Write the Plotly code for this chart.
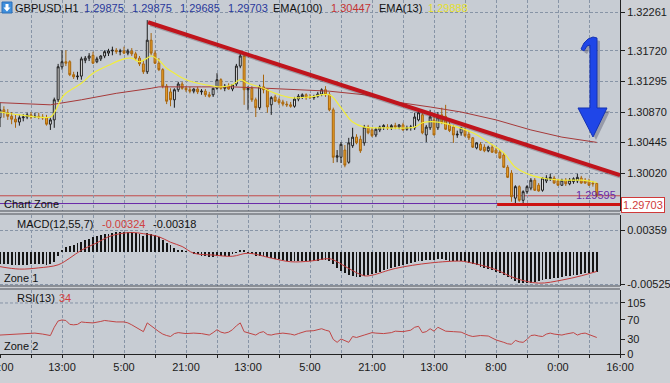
import plotly.graph_objects as go

# ---------------- data ----------------
bar = list(range(155))
open_ = [1.3079,1.3090,1.3086,1.3081,1.3077,1.3073,1.3079,1.3080,1.3083,1.3080,
         1.3081,1.3080,1.3079,1.3070,1.3076,1.3104,1.3150,1.3157,1.3157,1.3139,
         1.3136,1.3137,1.3159,1.3162,1.3166,1.3157,1.3161,1.3165,1.3169,1.3172,
         1.3173,1.3171,1.3172,1.3169,1.3172,1.3168,1.3162,1.3154,1.3143,1.3187,
         1.3169,1.3155,1.3146,1.3123,1.3115,1.3104,1.3118,1.3126,1.3120,1.3118,
         1.3116,1.3119,1.3115,1.3116,1.3111,1.3111,1.3120,1.3132,1.3120,1.3123,
         1.3119,1.3126,1.3151,1.3165,1.3118,1.3120,1.3104,1.3093,1.3122,1.3118,
         1.3097,1.3108,1.3104,1.3101,1.3098,1.3097,1.3095,1.3105,1.3108,1.3111,
         1.3108,1.3107,1.3109,1.3112,1.3118,1.3111,1.3090,1.3024,1.3024,1.3034,
         1.3017,1.3040,1.3052,1.3049,1.3044,1.3066,1.3062,1.3055,1.3062,1.3066,
         1.3066,1.3065,1.3068,1.3066,1.3069,1.3063,1.3065,1.3065,1.3076,1.3083,
         1.3055,1.3065,1.3076,1.3065,1.3083,1.3081,1.3069,1.3066,1.3055,1.3058,
         1.3062,1.3056,1.3051,1.3037,1.3042,1.3038,1.3033,1.3038,1.3034,1.3031,
         1.3027,1.3010,1.3002,1.2967,1.2983,1.2964,1.2976,1.2981,1.2992,1.2985,
         1.2978,1.2991,1.2994,1.2995,1.2991,1.2985,1.2992,1.2987,1.2990,1.2991,
         1.2995,1.2992,1.2991,1.2988,1.29875]
high = [1.3100,1.3095,1.3091,1.3087,1.3084,1.3083,1.3084,1.3086,1.3087,1.3086,
        1.3086,1.3084,1.3083,1.3079,1.3107,1.3154,1.3173,1.3173,1.3159,1.3143,
        1.3143,1.3164,1.3165,1.3169,1.3171,1.3164,1.3166,1.3173,1.3175,1.3178,
        1.3176,1.3175,1.3178,1.3175,1.3176,1.3171,1.3165,1.3159,1.3215,1.3197,
        1.3173,1.3162,1.3148,1.3126,1.3120,1.3120,1.3129,1.3129,1.3123,1.3122,
        1.3120,1.3122,1.3119,1.3119,1.3115,1.3120,1.3141,1.3134,1.3126,1.3127,
        1.3126,1.3154,1.3169,1.3168,1.3123,1.3123,1.3107,1.3125,1.3139,1.3120,
        1.3109,1.3111,1.3107,1.3104,1.3102,1.3101,1.3108,1.3112,1.3113,1.3113,
        1.3112,1.3111,1.3115,1.3120,1.3123,1.3115,1.3093,1.3034,1.3045,1.3041,
        1.3051,1.3065,1.3056,1.3054,1.3069,1.3069,1.3065,1.3065,1.3068,1.3070,
        1.3070,1.3070,1.3072,1.3070,1.3072,1.3068,1.3069,1.3086,1.3090,1.3087,
        1.3069,1.3090,1.3083,1.3087,1.3093,1.3097,1.3076,1.3069,1.3061,1.3066,
        1.3065,1.3061,1.3052,1.3045,1.3045,1.3042,1.3040,1.3041,1.3037,1.3034,
        1.3030,1.3013,1.3006,1.2985,1.2985,1.2978,1.2985,1.2995,1.2995,1.2988,
        1.2996,1.2999,1.3001,1.2998,1.2994,1.2994,1.2995,1.2995,1.2996,1.3001,
        1.2998,1.2995,1.2994,1.2991,1.29875]
low = [1.3066,1.3079,1.3076,1.3070,1.3065,1.3068,1.3074,1.3077,1.3077,1.3079,
       1.3077,1.3076,1.3068,1.3062,1.3065,1.3101,1.3146,1.3151,1.3137,1.3133,
       1.3132,1.3132,1.3155,1.3158,1.3154,1.3155,1.3158,1.3162,1.3165,1.3166,
       1.3168,1.3166,1.3168,1.3166,1.3165,1.3159,1.3151,1.3140,1.3140,1.3166,
       1.3154,1.3144,1.3120,1.3098,1.3095,1.3093,1.3115,1.3118,1.3115,1.3113,
       1.3113,1.3112,1.3111,1.3108,1.3107,1.3108,1.3118,1.3118,1.3116,1.3118,
       1.3116,1.3123,1.3148,1.3097,1.3090,1.3101,1.3080,1.3090,1.3113,1.3086,
       1.3083,1.3101,1.3097,1.3095,1.3094,1.3093,1.3093,1.3102,1.3105,1.3104,
       1.3105,1.3104,1.3107,1.3109,1.3108,1.3088,1.3016,1.3017,1.3016,1.3010,
       1.3015,1.3037,1.3042,1.3030,1.3040,1.3056,1.3052,1.3052,1.3059,1.3062,
       1.3062,1.3062,1.3063,1.3063,1.3061,1.3061,1.3061,1.3062,1.3074,1.3056,
       1.3045,1.3062,1.3055,1.3062,1.3070,1.3062,1.3059,1.3044,1.3051,1.3054,
       1.3052,1.3048,1.3037,1.3035,1.3033,1.3031,1.3031,1.3030,1.3029,1.3022,
       1.3009,1.2995,1.2962,1.2960,1.2962,1.2960,1.2973,1.2978,1.2977,1.2976,
       1.2976,1.2988,1.2991,1.2987,1.2984,1.2984,1.2984,1.2985,1.2987,1.2988,
       1.2987,1.2987,1.2984,1.2983,1.29685]
close = [1.3090,1.3086,1.3081,1.3077,1.3073,1.3079,1.3080,1.3083,1.3080,1.3081,
         1.3080,1.3079,1.3070,1.3076,1.3104,1.3150,1.3157,1.3155,1.3139,1.3136,
         1.3137,1.3161,1.3162,1.3165,1.3155,1.3161,1.3165,1.3171,1.3172,1.3173,
         1.3171,1.3172,1.3169,1.3172,1.3168,1.3162,1.3154,1.3143,1.3187,1.3169,
         1.3155,1.3146,1.3123,1.3102,1.3104,1.3118,1.3126,1.3120,1.3118,1.3116,
         1.3119,1.3115,1.3116,1.3111,1.3109,1.3120,1.3132,1.3120,1.3123,1.3119,
         1.3125,1.3151,1.3165,1.3118,1.3120,1.3104,1.3093,1.3122,1.3118,1.3094,
         1.3107,1.3102,1.3100,1.3098,1.3097,1.3095,1.3105,1.3109,1.3111,1.3107,
         1.3107,1.3108,1.3112,1.3118,1.3111,1.3090,1.3024,1.3026,1.3042,1.3013,
         1.3044,1.3052,1.3044,1.3033,1.3066,1.3058,1.3054,1.3063,1.3066,1.3068,
         1.3065,1.3068,1.3066,1.3069,1.3062,1.3065,1.3066,1.3080,1.3086,1.3058,
         1.3066,1.3080,1.3055,1.3080,1.3072,1.3063,1.3061,1.3055,1.3056,1.3065,
         1.3054,1.3051,1.3038,1.3044,1.3034,1.3033,1.3038,1.3031,1.3030,1.3023,
         1.3010,1.2996,1.2969,1.2983,1.2964,1.2976,1.2983,1.2992,1.2978,1.2977,
         1.2995,1.2995,1.2996,1.2988,1.2985,1.2992,1.2987,1.2992,1.2994,1.2996,
         1.2988,1.2988,1.2985,1.2987,1.29703]

ema13_x = [0, 5, 13, 14, 16, 17, 21, 24, 28, 32, 34, 36, 38, 39, 41, 43, 45, 48, 53, 57,
           60, 62, 64, 68, 71, 75, 80, 85, 88, 91, 94, 98, 107, 109, 113, 118, 122, 126,
           130, 133, 137, 141, 145, 150, 154]
ema13_y = [1.3087, 1.3083, 1.3080, 1.3086, 1.3107, 1.3113, 1.3127, 1.3141, 1.3152, 1.3161,
           1.3162, 1.3157, 1.3162, 1.3165, 1.3159, 1.3148, 1.3141, 1.3132, 1.3125, 1.3122,
           1.3125, 1.3132, 1.3127, 1.3120, 1.3113, 1.3107, 1.3108, 1.3111, 1.3093, 1.3073,
           1.3066, 1.3065, 1.3066, 1.3072, 1.3073, 1.3066, 1.3058, 1.3045, 1.3030, 1.3010,
           1.2999, 1.2994, 1.2992, 1.2992, 1.29888]
ema100_x = [0, 13, 21, 30, 39, 41, 52, 60, 69, 77, 85, 94, 102, 111, 119, 128, 137, 145, 154]
ema100_y = [1.3100, 1.3097, 1.3104, 1.3113, 1.3120, 1.3122, 1.3122, 1.3122, 1.3120, 1.3118,
            1.3116, 1.3111, 1.3101, 1.3094, 1.3087, 1.3076, 1.3062, 1.3052, 1.30447]

macd_hist = [-0.0019,-0.0020,-0.0020,-0.0021,-0.0021,-0.0022,-0.0021,-0.0021,-0.0020,-0.0020,
             -0.0020,-0.0020,-0.0021,-0.0020,-0.0016,-0.0006,0.0003,0.0008,0.0010,0.0012,
             0.0014,0.0017,0.0019,0.0021,0.0024,0.0026,0.0028,0.0029,0.0030,0.0031,
             0.0032,0.0033,0.0033,0.0033,0.0032,0.0031,0.0029,0.0027,0.0031,0.0030,
             0.0028,0.0025,0.0020,0.0015,0.0011,0.0007,0.0004,0.0002,0.0001,0.0000,
             -0.0002,-0.0004,-0.0006,-0.0007,-0.0008,-0.0008,-0.0007,-0.0007,-0.0007,-0.0006,
             -0.0004,-0.0001,0.0003,0.0002,-0.0001,-0.0004,-0.0006,-0.0007,-0.0007,-0.0009,
             -0.0010,-0.0011,-0.0012,-0.0013,-0.0014,-0.0015,-0.0015,-0.0015,-0.0015,-0.0015,
             -0.0015,-0.0015,-0.0014,-0.0013,-0.0013,-0.0014,-0.0020,-0.0026,-0.0031,-0.0035,
             -0.0038,-0.0040,-0.0041,-0.0041,-0.0040,-0.0038,-0.0036,-0.0034,-0.0032,-0.0030,
             -0.0028,-0.0026,-0.0024,-0.0023,-0.0021,-0.0020,-0.0018,-0.0016,-0.0015,-0.0014,
             -0.0013,-0.0013,-0.0013,-0.0012,-0.0012,-0.0013,-0.0014,-0.0014,-0.0015,-0.0015,
             -0.0016,-0.0018,-0.0020,-0.0022,-0.0024,-0.0026,-0.0028,-0.0030,-0.0032,-0.0035,
             -0.0038,-0.0041,-0.0045,-0.0048,-0.0050,-0.0051,-0.0051,-0.0050,-0.0049,-0.0048,
             -0.0046,-0.0045,-0.0044,-0.0043,-0.0042,-0.0041,-0.0040,-0.0039,-0.0038,-0.0037,
             -0.0036,-0.0035,-0.0034,-0.0033,-0.00324]
macd_sig_x = [0, 5, 10, 15, 18, 21, 25, 28, 31, 34, 37, 41, 44, 47, 50, 55, 60, 64, 70, 75,
              80, 85, 87, 90, 94, 96, 102, 111, 119, 121, 125, 128, 133, 139, 145, 150, 154]
macd_sig_y = [-0.0024, -0.0028, -0.0026, -0.0021, -0.0010, 0.0003, 0.0015, 0.0025, 0.0030, 0.0032,
              0.0030, 0.0025, 0.0016, 0.0009, -0.0002, -0.0005, -0.0007, -0.0002, -0.0010, -0.0016,
              -0.0015, -0.0011, -0.0016, -0.0027, -0.0039, -0.0038, -0.0027, -0.0018, -0.0015, -0.0017,
              -0.0023, -0.0029, -0.0043, -0.0051, -0.0046, -0.0039, -0.00318]

rsi_x = [0, 3, 6, 9, 11, 13, 14, 15, 16, 17, 18, 19, 20, 21, 22, 24, 26, 27, 28, 30,
         32, 33, 34, 35, 36, 37, 38, 39, 40, 41, 42, 43, 44, 45, 46, 48, 50, 52, 54, 55,
         56, 57, 58, 59, 60, 61, 62, 63, 64, 65, 66, 67, 68, 69, 70, 71, 73, 75, 76, 77,
         79, 81, 82, 83, 84, 85, 86, 87, 88, 89, 90, 91, 92, 94, 96, 97, 99, 101, 102, 104,
         106, 107, 108, 109, 110, 111, 112, 113, 114, 115, 117, 119, 121, 122, 124, 126, 128, 129, 130, 131,
         132, 133, 134, 135, 136, 137, 138, 139, 140, 141, 142, 143, 145, 146, 148, 149, 150, 151, 152, 153,
         154]
rsi_y = [39, 40, 42, 43, 41, 38, 55, 68, 70, 69, 61, 60, 61, 66, 65, 64, 67, 69, 68, 66,
         66, 64, 60, 55, 50, 46, 64, 57, 52, 46, 41, 38, 36, 42, 44, 42, 43, 42, 39, 44,
         50, 45, 43, 45, 50, 58, 64, 46, 44, 42, 39, 44, 46, 40, 39, 41, 43, 41, 39, 42,
         47, 48, 50, 52, 49, 47, 30, 24, 31, 27, 24, 36, 34, 39, 44, 43, 42, 44, 47, 46,
         49, 55, 57, 44, 46, 52, 47, 55, 51, 47, 46, 45, 38, 36, 38, 37, 29, 27, 24, 21,
         20, 28, 25, 24, 30, 38, 39, 37, 36, 41, 43, 41, 39, 41, 44, 39, 42, 43, 40, 38,
         34]

time_tick_bars = [0, 16, 32, 48, 64, 80, 96, 112, 128, 144, 160]
time_tick_labels = ["21:00", "13:00", "5:00", "21:00", "13:00", "5:00", "21:00",
                    "13:00", "8:00", "0:00", "16:00"]
price_ticks = [1.32261, 1.31720, 1.31295, 1.30870, 1.30445, 1.30020]
macd_ticks = [0.00359, -0.00525]
rsi_ticks = [0, 30, 70, 105]

trend_x = [38.2, 160]
trend_y = [1.3212, 1.2999]
support_x = [128.3, 160]
support_y = [1.2958, 1.2958]
last_price = 1.29703
level_price = 1.29595
rsi_last = 34

# ---------------- layout helpers ----------------
W, H = 670, 383
MR, MB = 50, 29
PW, PH = W - MR, H - MB   # plot area 620 x 354


def px(x):
    return x / PW


def py(y):
    return (PH - y) / PH


def poly(points):
    s = "M " + " L ".join(f"{px(a):.5f},{py(b):.5f}" for a, b in points) + " Z"
    return s


GRID = "#8794a6"
BG = "#c7ccd3"
FONT = "Liberation Sans, Arial, sans-serif"

fig = go.Figure()

fig.add_trace(go.Candlestick(
    x=bar, open=open_, high=high, low=low, close=close,
    increasing=dict(line=dict(color="#1c1c1c", width=1), fillcolor="#f4f4f4"),
    decreasing=dict(line=dict(color="#a8650c", width=1), fillcolor="#eba22a"),
    whiskerwidth=0, xaxis="x", yaxis="y", showlegend=False, hoverinfo="skip"))

fig.add_trace(go.Scatter(x=ema100_x, y=ema100_y, mode="lines",
                         line=dict(color="#a63a3a", width=1), xaxis="x", yaxis="y",
                         showlegend=False, hoverinfo="skip"))
fig.add_trace(go.Scatter(x=ema13_x, y=ema13_y, mode="lines", line_shape="spline",
                         line=dict(color="#f2ee3a", width=1.2), xaxis="x", yaxis="y",
                         showlegend=False, hoverinfo="skip"))
# trend line shadow and line
fig.add_trace(go.Scatter(x=[v + 0.6 for v in trend_x], y=[v - 0.00028 for v in trend_y],
                         mode="lines", line=dict(color="rgba(70,50,60,0.30)", width=4),
                         xaxis="x", yaxis="y", showlegend=False, hoverinfo="skip"))
fig.add_trace(go.Scatter(x=trend_x, y=trend_y, mode="lines",
                         line=dict(color="#c0141c", width=4), xaxis="x", yaxis="y",
                         showlegend=False, hoverinfo="skip"))
fig.add_trace(go.Scatter(x=support_x, y=support_y, mode="lines",
                         line=dict(color="#cc1212", width=3), xaxis="x", yaxis="y",
                         showlegend=False, hoverinfo="skip"))

fig.add_trace(go.Bar(x=bar, y=macd_hist, width=0.22,
                     marker=dict(color="#151515", line=dict(width=0)),
                     xaxis="x2", yaxis="y2", showlegend=False, hoverinfo="skip"))
fig.add_trace(go.Scatter(x=macd_sig_x, y=macd_sig_y, mode="lines", line_shape="spline",
                         line=dict(color="#c23a3a", width=1), xaxis="x2", yaxis="y2",
                         showlegend=False, hoverinfo="skip"))

fig.add_trace(go.Scatter(x=rsi_x, y=rsi_y, mode="lines",
                         line=dict(color="#c04545", width=1), xaxis="x3", yaxis="y3",
                         showlegend=False, hoverinfo="skip"))

grid_vals = list(range(0, 161, 8))
grid_text = [time_tick_labels[time_tick_bars.index(v)] if v in time_tick_bars else "" for v in grid_vals]

xcommon = dict(range=[0, 160], showgrid=True, gridcolor=GRID, griddash="3px,2px",
               gridwidth=1, zeroline=False, tickmode="array", tickvals=grid_vals,
               fixedrange=True)

fig.update_layout(
    width=W, height=H,
    margin=dict(l=0, r=MR, t=0, b=MB),
    paper_bgcolor="#cdd0d5", plot_bgcolor=BG,
    font=dict(family=FONT, size=11, color="#111"),
    bargap=0,
    xaxis=dict(**xcommon, anchor="y", showticklabels=False, rangeslider=dict(visible=False)),
    xaxis2=dict(**xcommon, anchor="y2", showticklabels=False, matches="x"),
    xaxis3=dict(**xcommon, anchor="y3", matches="x", ticktext=grid_text,
                showticklabels=True, ticks="outside", ticklen=3, tickcolor="#222",
                showline=True, linecolor="#222", linewidth=1,
                tickfont=dict(size=11, color="#1a1a1a")),
    yaxis=dict(domain=[py(211), 1], range=[1.29491, 1.32430], side="right",
               tickmode="array", tickvals=price_ticks,
               ticktext=[f"{v:.5f}" for v in price_ticks],
               ticks="outside", ticklen=4, tickcolor="#222",
               showline=True, linecolor="#222", linewidth=1,
               showgrid=True, gridcolor=GRID, griddash="3px,2px", zeroline=False,
               tickfont=dict(size=11, color="#1a1a1a"), fixedrange=True),
    yaxis2=dict(domain=[py(286), py(215)], range=[-0.00557, 0.00606], side="right",
                tickmode="array", tickvals=macd_ticks,
                ticktext=[f"{v:.5f}" for v in macd_ticks],
                ticks="outside", ticklen=4, tickcolor="#222",
                showline=True, linecolor="#222", linewidth=1,
                showgrid=True, gridcolor=GRID, griddash="3px,2px", zeroline=False,
                tickfont=dict(size=11, color="#1a1a1a"), fixedrange=True),
    yaxis3=dict(domain=[0, py(290)], range=[0, 131.7], side="right",
                tickmode="array", tickvals=rsi_ticks,
                ticktext=[str(v) for v in rsi_ticks],
                ticks="outside", ticklen=4, tickcolor="#222",
                showline=True, linecolor="#222", linewidth=1,
                showgrid=False, zeroline=False,
                tickfont=dict(size=11, color="#1a1a1a"), fixedrange=True),
)

shapes = []
# horizontal price level lines
shapes.append(dict(type="line", xref="paper", yref="y", x0=0, x1=1, y0=last_price, y1=last_price,
                   line=dict(color="#c24a4a", width=1), layer="below"))
shapes.append(dict(type="line", xref="paper", yref="y", x0=0, x1=1, y0=level_price, y1=level_price,
                   line=dict(color="#6a2aa8", width=1), layer="below"))
# RSI upper guide line (105)
shapes.append(dict(type="line", xref="paper", yref="y3", x0=0, x1=1, y0=rsi_ticks[-1], y1=rsi_ticks[-1],
                   line=dict(color=GRID, width=1, dash="3px,2px"), layer="below"))
# panel separators
for yy in (211, 214, 286, 289):
    shapes.append(dict(type="line", xref="paper", yref="paper", x0=0, x1=1,
                       y0=py(yy), y1=py(yy), line=dict(color="#4a4f57", width=1)))
# blue arrow (shadow + arrow)
arrow = [(581, 49), (584, 43), (588, 39), (593, 37), (597, 38), (597, 108), (607, 108),
         (593, 137), (578, 108), (590, 108), (590, 45), (587, 46), (584, 51)]
shapes.append(dict(type="path", xref="paper", yref="paper",
                   path=poly([(a + 3, b + 3) for a, b in arrow]),
                   fillcolor="rgba(40,40,70,0.30)", line=dict(width=0)))
shapes.append(dict(type="path", xref="paper", yref="paper", path=poly(arrow),
                   fillcolor="#1f46e8", line=dict(color="#1533b4", width=1)))
# title icon
shapes.append(dict(type="rect", xref="paper", yref="paper", x0=px(2), x1=px(12),
                   y0=py(13), y1=py(2), fillcolor="#3f8fdc", line=dict(color="#2c6fb8", width=1)))
shapes.append(dict(type="path", xref="paper", yref="paper",
                   path=poly([(5.5, 4), (8.5, 4), (8.5, 7.5), (10.5, 7.5), (7, 11.5), (3.5, 7.5), (5.5, 7.5)]),
                   fillcolor="white", line=dict(width=0)))
fig.update_layout(shapes=shapes)

ann = []


def label(text, x, y, color="#111", size=11, anchor="left"):
    ann.append(dict(text=text, x=px(x), y=py(y), xref="paper", yref="paper",
                    xanchor=anchor, yanchor="middle", showarrow=False,
                    font=dict(family=FONT, size=size, color=color)))


blue = "#2a3a9c"
label("GBPUSD,H1", 13, 8)
label(f"{open_[-1]:.5f}", 82, 8, blue)
label(f"{high[-1]:.5f}", 130, 8, blue)
label(f"{low[-1]:.5f}", 178, 8, blue)
label(f"{close[-1]:.5f}", 226, 8, blue)
label("EMA(100)", 271, 8)
label(f"{ema100_y[-1]:.5f}", 329, 8, "#c43434")
label("EMA(13)", 377, 8)
label(f"{ema13_y[-1]:.5f}", 426, 8, "#e6e030")

label("Chart Zone", 2, 204)
label(f"{level_price:.5f}", 618, 195, "#6a2aa8", anchor="right")

label("MACD(12,55,7)", 15, 224)
label(f"{macd_hist[-1]:.5f}", 100, 224, "#d04040")
label(f"{macd_sig_y[-1]:.5f}", 151, 224)
label("Zone 1", 2, 278)

label("RSI(13)", 15, 298)
label(str(rsi_last), 57, 298, "#d04040")
label("Zone 2", 2, 346)

# first time label, half cut by the left edge as in the original
label(time_tick_labels[0], 0, 367, "#1a1a1a", anchor="center")

ann.append(dict(text=f"{last_price:.5f}", x=px(621), y=py(205), xref="paper", yref="paper",
                xanchor="left", yanchor="middle", showarrow=False,
                bgcolor="white", bordercolor="#d03a3a", borderwidth=1, borderpad=1,
                font=dict(family=FONT, size=11, color="#d03a3a")))
fig.update_layout(annotations=ann)

fig.write_html("out.html", config={"displayModeBar": False},
               post_script="document.body.style.margin='0';document.body.style.overflow='hidden';")
